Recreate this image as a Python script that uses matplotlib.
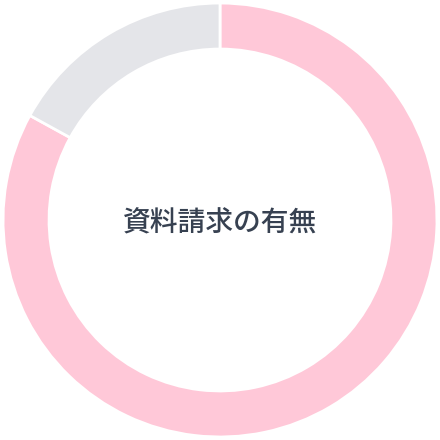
import matplotlib
matplotlib.use("Agg")
import matplotlib.pyplot as plt

labels = ["あり", "なし"]
values = [83, 17]
colors = ["#FFC8D8", "#E4E5E9"]
title = "資料請求の有無"

plt.rcParams["font.family"] = ["Noto Sans CJK JP", "DejaVu Sans"]

fig = plt.figure(figsize=(4.4, 4.4), dpi=100)
ax = fig.add_axes([0, 0, 1, 1])

ax.pie(values, colors=colors, startangle=90, counterclock=False,
       radius=1.0,
       wedgeprops=dict(width=0.212, edgecolor="white", linewidth=2))
ax.set_xlim(-1.014, 1.014)
ax.set_ylim(-1.014, 1.014)
ax.set_aspect("equal")
ax.axis("off")

ax.text(0, -0.012, title, ha="center", va="center", fontsize=20,
        fontweight="medium", color="#374151")

fig.savefig("out.png", dpi=100)
